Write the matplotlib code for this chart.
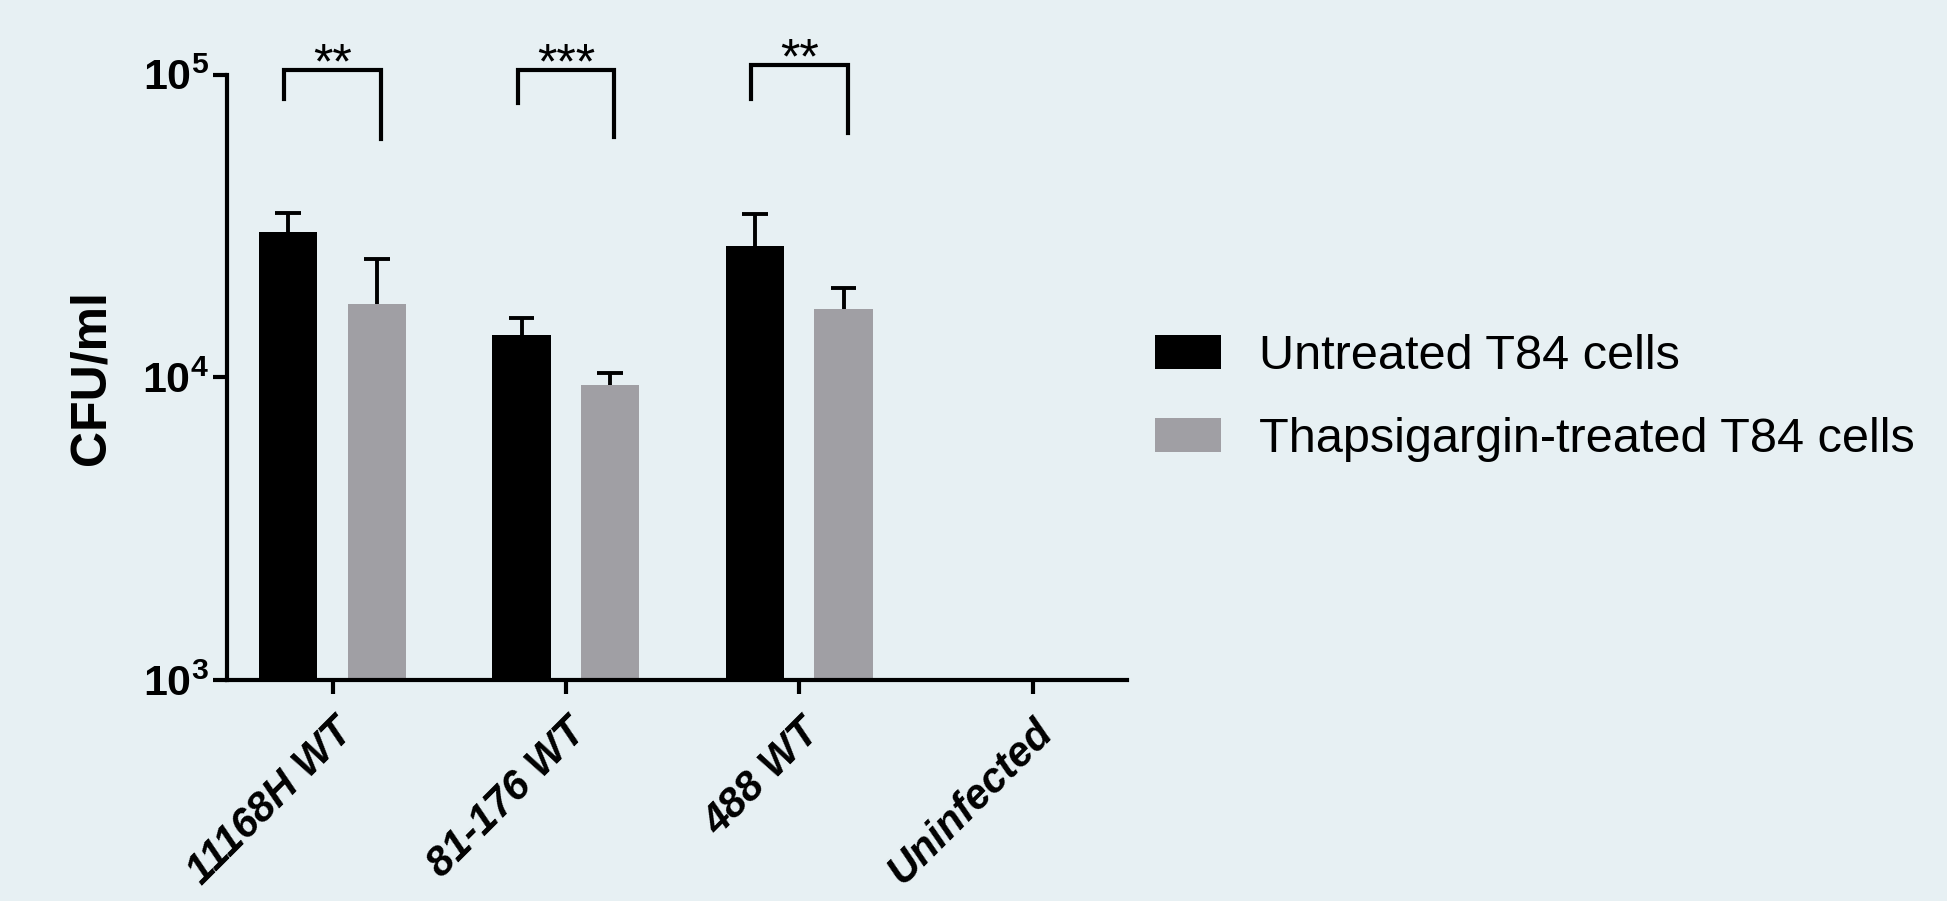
import numpy as np
import matplotlib
matplotlib.use("Agg")
import matplotlib.pyplot as plt
from matplotlib.patches import Patch

# ---- data ----
categories = ["11168H WT", "81-176 WT", "488 WT", "Uninfected"]
series_names = ["Untreated T84 cells", "Thapsigargin-treated T84 cells"]
untreated = [30200, 13800, 27200, np.nan]
untreated_err = [4600, 1950, 7300, np.nan]
treated = [17500, 9450, 16800, np.nan]
treated_err = [7000, 850, 2950, np.nan]
sig_labels = ["**", "***", "**"]
y_ticks = [1e3, 1e4, 1e5]
y_ticklabels = [r"$\mathbf{10^{3}}$", r"$\mathbf{10^{4}}$", r"$\mathbf{10^{5}}$"]

# ---- style ----
BG = "#E7F0F3"
BLACK = "#000000"
GRAY = "#A09FA4"
plt.rcParams["font.family"] = ["Liberation Sans", "DejaVu Sans"]
plt.rcParams["mathtext.fontset"] = "custom"
plt.rcParams["mathtext.rm"] = "Liberation Sans"
plt.rcParams["mathtext.bf"] = "Liberation Sans:bold"

fig = plt.figure(figsize=(19.47, 9.01), dpi=100, facecolor=BG)
ax = fig.add_axes([0.1166, 0.2453, 0.4622, 0.672])
ax.set_facecolor(BG)

x = np.arange(len(categories))
w = 0.25
off = 0.19
cap = 0.055
ax.bar(x - off, untreated, width=w, color=BLACK, zorder=2)
ax.bar(x + off, treated, width=w, color=GRAY, zorder=2)
for xs, vals, errs in [(x - off, untreated, untreated_err), (x + off, treated, treated_err)]:
    vals = np.array(vals, dtype=float)
    tops = vals + np.array(errs, dtype=float)
    ax.vlines(xs, vals, tops, color=BLACK, lw=2.8, zorder=3)
    ax.hlines(tops, xs - cap, xs + cap, color=BLACK, lw=2.8, zorder=3)

ax.set_yscale("log")
ax.set_ylim(1e3, 1e5)
ax.set_xlim(-0.452, 3.404)
ax.set_yticks(y_ticks)
ax.set_yticklabels(y_ticklabels, fontsize=31)
ax.yaxis.set_minor_locator(matplotlib.ticker.NullLocator())
ax.set_xticks(x)
ax.set_xticklabels(categories, rotation=45, ha="right", va="top",
                   rotation_mode="anchor", fontsize=30, fontweight="bold",
                   fontstyle="italic")
for s in ["top", "right"]:
    ax.spines[s].set_visible(False)
for s in ["left", "bottom"]:
    ax.spines[s].set_linewidth(3)
ax.tick_params(axis="both", width=3, length=10, direction="out", color=BLACK)
ax.tick_params(axis="x", pad=13)
ax.tick_params(axis="y", pad=3)
ax.set_ylabel("CFU/ml", fontsize=36, fontweight="bold")
ax.yaxis.set_label_coords(-0.125, 0.5)

# significance brackets (layout positions in log10 units)
bracket_top = [5.016, 5.016, 5.033]
bracket_left_bottom = [4.918, 4.906, 4.918]
bracket_right_bottom = [4.787, 4.795, 4.807]
for i, lab in enumerate(sig_labels):
    xl, xr = x[i] - 0.207, x[i] + 0.207
    ax.plot([xl, xl, xr, xr],
            [10 ** bracket_left_bottom[i], 10 ** bracket_top[i],
             10 ** bracket_top[i], 10 ** bracket_right_bottom[i]],
            color=BLACK, lw=3, clip_on=False, solid_joinstyle="miter", zorder=4)
    ax.text(x[i], 10 ** (bracket_top[i] - 0.03), lab, ha="center", va="baseline",
            fontsize=36, clip_on=False)

# legend
handles = [Patch(facecolor=BLACK, edgecolor="none"), Patch(facecolor=GRAY, edgecolor="none")]
fig.legend(handles, series_names, loc="upper left", bbox_to_anchor=(1155 / 1947, 1 - 334 / 901),
           frameon=False, fontsize=35, handlelength=1.35, handleheight=0.68,
           handletextpad=0.78, labelspacing=0.78, borderpad=0, borderaxespad=0)

fig.savefig("out.png", dpi=100, facecolor=BG)
